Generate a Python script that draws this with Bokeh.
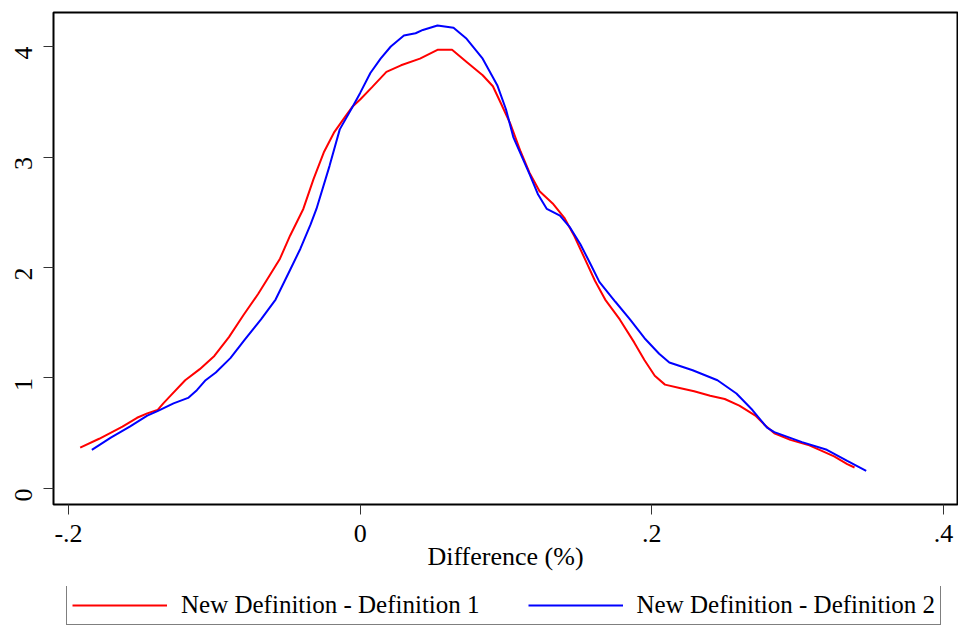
import math
from bokeh.plotting import figure
from bokeh.layouts import column
from bokeh.models import Range1d, FixedTicker, Legend, LegendItem
from bokeh.embed import file_html
from bokeh.resources import INLINE

# ---- data ----
def1_x = [-0.192, -0.179, -0.163, -0.153, -0.146, -0.139, -0.135, -0.130, -0.120, -0.110,
          -0.100, -0.090, -0.080, -0.070, -0.062, -0.055, -0.048, -0.039, -0.032, -0.025,
          -0.018, -0.010, -0.005, 0.000, 0.008, 0.018, 0.028, 0.041, 0.053, 0.063,
          0.073, 0.084, 0.091, 0.096, 0.103, 0.110, 0.116, 0.123, 0.132, 0.140,
          0.147, 0.154, 0.161, 0.168, 0.178, 0.188, 0.195, 0.202, 0.209, 0.219,
          0.229, 0.240, 0.250, 0.260, 0.271, 0.277, 0.284, 0.295, 0.308, 0.315,
          0.325, 0.334, 0.339]
def1_y = [0.37, 0.45, 0.56, 0.64, 0.68, 0.71, 0.77, 0.84, 0.98, 1.08,
          1.20, 1.37, 1.57, 1.76, 1.93, 2.08, 2.29, 2.53, 2.80, 3.04,
          3.22, 3.37, 3.46, 3.52, 3.63, 3.77, 3.83, 3.89, 3.97, 3.97,
          3.86, 3.74, 3.64, 3.50, 3.30, 3.05, 2.86, 2.69, 2.58, 2.45,
          2.28, 2.08, 1.88, 1.71, 1.53, 1.32, 1.16, 1.02, 0.94, 0.91,
          0.88, 0.84, 0.81, 0.75, 0.66, 0.58, 0.50, 0.44, 0.39, 0.35,
          0.29, 0.22, 0.19]

def2_x = [-0.184, -0.171, -0.158, -0.146, -0.139, -0.128, -0.118, -0.112, -0.106, -0.099,
          -0.089, -0.079, -0.068, -0.058, -0.048, -0.041, -0.034, -0.030, -0.021, -0.014,
          -0.005, 0.000, 0.007, 0.014, 0.021, 0.030, 0.038, 0.043, 0.053, 0.064,
          0.073, 0.084, 0.094, 0.100, 0.105, 0.116, 0.122, 0.128, 0.137, 0.144,
          0.151, 0.158, 0.164, 0.175, 0.185, 0.195, 0.205, 0.212, 0.228, 0.245,
          0.258, 0.269, 0.279, 0.284, 0.303, 0.320, 0.334, 0.347]
def2_y = [0.35, 0.46, 0.56, 0.66, 0.70, 0.77, 0.82, 0.89, 0.98, 1.05,
          1.18, 1.35, 1.53, 1.71, 1.98, 2.17, 2.39, 2.53, 2.92, 3.25,
          3.46, 3.58, 3.76, 3.89, 4.00, 4.10, 4.12, 4.15, 4.19, 4.17,
          4.07, 3.89, 3.65, 3.43, 3.18, 2.85, 2.66, 2.53, 2.47, 2.36,
          2.21, 2.03, 1.87, 1.69, 1.53, 1.36, 1.22, 1.14, 1.07, 0.98,
          0.86, 0.71, 0.55, 0.51, 0.42, 0.35, 0.25, 0.16]

x_ticks = [-0.2, 0.0, 0.2, 0.4]
x_tick_labels = ["-.2", "0", ".2", ".4"]
y_ticks = [0, 1, 2, 3, 4]
y_tick_labels = ["0", "1", "2", "3", "4"]

series_labels = ["New Definition - Definition 1", "New Definition - Definition 2"]
series_colors = ["#ff0000", "#0000ff"]
x_label = "Difference (%)"

FONT = "Liberation Serif"
FS = "26px"
W = 958

# ---- main chart ----
p = figure(width=W, height=586, output_backend="svg", toolbar_location=None,
           x_range=Range1d(-0.2103, 0.4096), y_range=Range1d(-0.1448, 4.3077),
           min_border_left=53, min_border_right=1, min_border_top=12, min_border_bottom=82)

p.background_fill_color = "white"
p.border_fill_color = "white"
p.outline_line_color = "black"
p.outline_line_width = 2
p.xgrid.visible = False
p.ygrid.visible = False

p.line(def1_x, def1_y, line_color=series_colors[0], line_width=2)
p.line(def2_x, def2_y, line_color=series_colors[1], line_width=2)

xa = p.xaxis[0]
xa.ticker = FixedTicker(ticks=x_ticks)
xa.major_label_overrides = {t: l for t, l in zip(x_ticks, x_tick_labels)}
xa.axis_label = x_label
ya = p.yaxis[0]
ya.ticker = FixedTicker(ticks=y_ticks)
ya.major_label_overrides = {t: l for t, l in zip(y_ticks, y_tick_labels)}
ya.major_label_orientation = math.pi / 2

for ax in (xa, ya):
    ax.axis_line_color = None
    ax.major_tick_in = 0
    ax.major_tick_out = 10
    ax.major_tick_line_color = "#333333"
    ax.minor_tick_line_color = None
    ax.major_label_text_font = FONT
    ax.major_label_text_font_size = FS
    ax.major_label_text_color = "black"
    ax.axis_label_text_font = FONT
    ax.axis_label_text_font_size = FS
    ax.axis_label_text_font_style = "normal"
    ax.axis_label_text_color = "black"
xa.major_label_standoff = 10
ya.major_label_standoff = 20
xa.axis_label_standoff = -3

# ---- legend strip below the chart ----
lg = figure(width=W, height=40, output_backend="svg", toolbar_location=None,
            x_range=Range1d(-0.2103, 0.4096), y_range=Range1d(100, 101),
            x_axis_location=None, y_axis_location=None,
            min_border_left=0, min_border_right=0, min_border_top=0, min_border_bottom=0)
lg.outline_line_color = None
lg.xgrid.visible = False
lg.ygrid.visible = False
lg.background_fill_color = "white"
lg.border_fill_color = "white"
l1 = lg.line(def1_x, def1_y, line_color=series_colors[0], line_width=2)
l2 = lg.line(def2_x, def2_y, line_color=series_colors[1], line_width=2)

legend = Legend(items=[LegendItem(label=series_labels[0], renderers=[l1]),
                       LegendItem(label=series_labels[1], renderers=[l2])],
                orientation="horizontal", location=(13, 1))
legend.label_text_font = FONT
legend.label_text_font_size = "25px"
legend.label_text_color = "black"
legend.glyph_width = 95
legend.glyph_height = 20
legend.label_height = 20
legend.label_standoff = 14
legend.spacing = 48
legend.padding = 5
legend.margin = 0
legend.border_line_color = "black"
legend.border_line_width = 1
legend.background_fill_alpha = 1
lg.add_layout(legend)

layout = column(p, lg, spacing=0)
open("out.html", "w").write(file_html(layout, INLINE))
